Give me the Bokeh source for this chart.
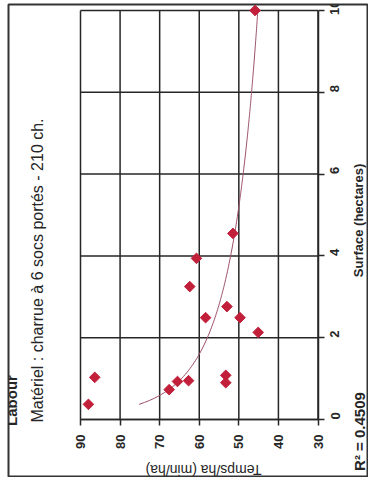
import numpy as np
from bokeh.plotting import figure
from bokeh.models import Range1d, FixedTicker, Label
from bokeh.embed import file_html
from bokeh.resources import INLINE

# ---- data read from the (rotated) reference chart ----
temps = [88.0, 86.4, 67.6, 65.5, 62.7, 53.3, 53.3, 45.1, 58.4, 49.7, 53.0, 62.4, 60.7, 51.5, 45.9]
surface = [0.37, 1.03, 0.73, 0.93, 0.95, 1.08, 0.90, 2.13, 2.49, 2.49, 2.76, 3.25, 3.94, 4.55, 10.0]
temps_ticks = [30, 40, 50, 60, 70, 80, 90]
surface_ticks = [0, 2, 4, 6, 8, 10]
temps_title = "Temps/ha (min/ha)"
surface_title = "Surface (hectares)"
r2_text = "R\u00b2 = 0.4509"
subtitle_text = "Mat\u00e9riel : charrue \u00e0 6 socs port\u00e9s - 210 ch."
section_text = "Labour"

# power trendline fitted from the points (temps = a * surface^b)
b, ln_a = np.polyfit(np.log(surface), np.log(temps), 1)
s_fit = np.linspace(min(surface), max(surface), 200)
t_fit = np.exp(ln_a) * s_fit ** b

# ---- layout (page pixels); the chart is drawn rotated 90 degrees ----
W, H = 368, 477
FL, FT, FR, FB = 8, 4, 367, 476          # outer box = plot frame
X90, X30, Y0, Y10 = 80.0, 317.5, 419.0, 10.0  # inner data box

def xd(px):
    return 90 + (px - X90) * (30 - 90) / (X30 - X90)

def yd(py):
    return (py - Y0) * 10 / (Y10 - Y0)

FONT = "Liberation Sans"
INK = "#262626"

p = figure(width=W, height=H, x_range=Range1d(xd(FL), xd(FR)), y_range=Range1d(yd(FB), yd(FT)),
           output_backend="svg", toolbar_location=None,
           x_axis_location="below", y_axis_location="right",
           min_border_left=FL, min_border_top=FT, min_border_right=W - FR, min_border_bottom=H - FB)
p.grid.visible = False
p.outline_line_color = "#333333"
p.outline_line_width = 2

# grid box
tmin, tmax = min(temps_ticks), max(temps_ticks)
smin, smax = min(surface_ticks), max(surface_ticks)
p.segment(x0=temps_ticks, y0=[smin] * len(temps_ticks), x1=temps_ticks, y1=[smax] * len(temps_ticks),
          line_color=INK, line_width=1.5)
p.segment(x0=[tmin] * len(surface_ticks), y0=surface_ticks, x1=[tmax] * len(surface_ticks), y1=surface_ticks,
          line_color=INK, line_width=1.5)

xa, ya = p.xaxis[0], p.yaxis[0]
xa.fixed_location = smin
xa.bounds = (tmin, tmax)
ya.fixed_location = tmin
ya.bounds = (smin, smax)
for ax, ticks in ((xa, temps_ticks), (ya, surface_ticks)):
    ax.ticker = FixedTicker(ticks=ticks)
    ax.minor_tick_out = 0
    ax.minor_tick_in = 0
    ax.major_tick_in = 0
    ax.major_tick_out = 6
    ax.major_tick_line_color = INK
    ax.major_tick_line_width = 1.5
    ax.axis_line_color = INK
    ax.axis_line_width = 1.5
    ax.major_label_orientation = np.pi / 2
    ax.major_label_text_font = FONT
    ax.major_label_text_font_style = "bold"
    ax.major_label_text_font_size = "13px"
    ax.major_label_text_color = INK
xa.major_label_standoff = 9
ya.major_label_standoff = 11

p.line(t_fit, s_fit, line_color="#9c5068", line_width=1.0)
p.scatter(temps, surface, marker="square", angle=np.pi / 4, size=7.5,
          fill_color="#c21f3a", line_color="#c21f3a")

def lab(text, px, py, angle, size, style="normal"):
    p.add_layout(Label(x=xd(px), y=yd(py), text=text, angle=angle, text_align="center",
                       text_baseline="middle", text_font=FONT, text_font_size=size,
                       text_font_style=style, text_color=INK))

lab(temps_title, 203, 469, np.pi, "14px")
lab(surface_title, 358, 220, np.pi / 2, "13px", "bold")
lab(r2_text, 359, 431, np.pi / 2, "15px", "bold")
lab(subtitle_text, 37, 270, np.pi / 2, "16px")
lab(section_text, 11, 400, np.pi / 2, "15px", "bold")

open("out.html", "w").write(file_html(p, INLINE))
